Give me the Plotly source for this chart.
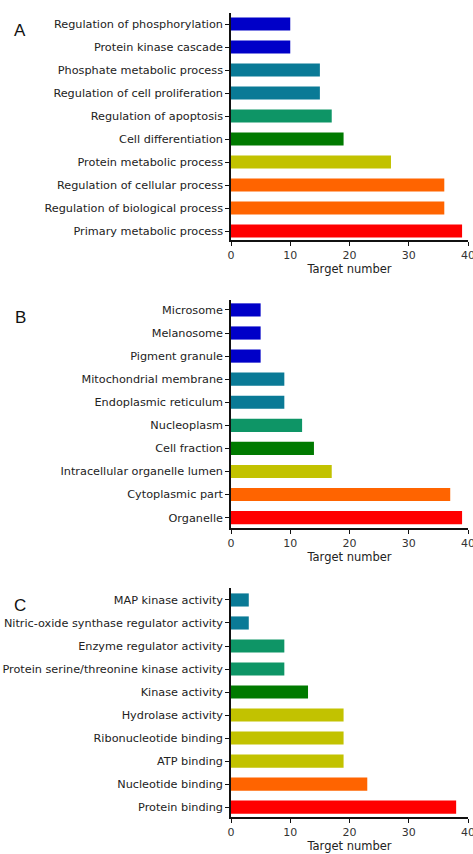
import plotly.graph_objects as go

W, H = 473, 854

# Panel A
cats_a = ["Regulation of phosphorylation", "Protein kinase cascade", "Phosphate metabolic process",
          "Regulation of cell proliferation", "Regulation of apoptosis", "Cell differentiation",
          "Protein metabolic process", "Regulation of cellular process",
          "Regulation of biological process", "Primary metabolic process"]
vals_a = [10, 10, 15, 15, 17, 19, 27, 36, 36, 39]
cols_a = ["#0000C8", "#0000C8", "#0A7A96", "#0A7A96", "#0E9566", "#007A00",
          "#C2C200", "#FF6400", "#FF6400", "#FF0000"]

# Panel B
cats_b = ["Microsome", "Melanosome", "Pigment granule", "Mitochondrial membrane",
          "Endoplasmic reticulum", "Nucleoplasm", "Cell fraction",
          "Intracellular organelle lumen", "Cytoplasmic part", "Organelle"]
vals_b = [5, 5, 5, 9, 9, 12, 14, 17, 37, 39]
cols_b = ["#0000C8", "#0000C8", "#0000C8", "#0A7A96", "#0A7A96", "#0E9566", "#007A00",
          "#C2C200", "#FF6400", "#FF0000"]

# Panel C
cats_c = ["MAP kinase activity", "Nitric-oxide synthase regulator activity",
          "Enzyme regulator activity", "Protein serine/threonine kinase activity",
          "Kinase activity", "Hydrolase activity", "Ribonucleotide binding",
          "ATP binding", "Nucleotide binding", "Protein binding"]
vals_c = [3, 3, 9, 9, 13, 19, 19, 19, 23, 38]
cols_c = ["#0A7A96", "#0A7A96", "#0E9566", "#0E9566", "#007A00", "#C2C200",
          "#C2C200", "#C2C200", "#FF6400", "#FF0000"]

x_ticks = [0, 10, 20, 30, 40]
panel_letters = ["A", "B", "C"]

# layout geometry in pixels (top, bottom of each plot area)
panels_px = [(13, 240), (300, 528), (588, 817)]
x_left_px, x_right_px = 231, 468

FONT = "DejaVu Sans, Liberation Sans, Arial, sans-serif"
fig = go.Figure()

data = [(cats_a, vals_a, cols_a), (cats_b, vals_b, cols_b), (cats_c, vals_c, cols_c)]
ranges = [[9.39, -0.48], [9.45, -0.43], [9.43, -0.52]]

layout = dict(
    width=W, height=H, margin=dict(l=0, r=0, t=0, b=0, autoexpand=False),
    paper_bgcolor="white", plot_bgcolor="white", showlegend=False,
    font=dict(family=FONT, color="#222", size=11),
)

annotations = []
for i, (cats, vals, cols) in enumerate(data):
    n = "" if i == 0 else str(i + 1)
    fig.add_trace(go.Bar(
        x=vals, y=list(range(len(cats))), orientation="h",
        marker=dict(color=cols, line=dict(width=0)),
        width=0.57, cliponaxis=False,
        xaxis="x" + n, yaxis="y" + n, hoverinfo="x+y",
    ))
    top, bot = panels_px[i]
    layout["xaxis" + n] = dict(
        domain=[x_left_px / W, x_right_px / W], anchor="y" + n, automargin=False,
        range=[0, 40], tickvals=x_ticks, ticktext=[str(t) for t in x_ticks],
        showgrid=False, zeroline=False, showline=True, linecolor="#111", linewidth=1.5,
        ticks="outside", ticklen=4, tickwidth=1.2, tickcolor="#111",
        tickfont=dict(size=11, color="#333"), ticklabeloverflow="allow",
        title=dict(text="Target number", font=dict(size=11.5, color="#222"), standoff=2),
    )
    layout["yaxis" + n] = dict(
        domain=[1 - bot / H, 1 - top / H], anchor="x" + n, automargin=False,
        range=ranges[i], tickvals=list(range(len(cats))), ticktext=cats,
        showgrid=False, zeroline=False, showline=True, linecolor="#111", linewidth=1.5,
        ticks="outside", ticklen=4, tickwidth=1.2, tickcolor="#111",
        tickfont=dict(size=11.25, color="#222"), ticklabeloverflow="allow",
    )
    annotations.append(dict(
        text=panel_letters[i], x=20 / W, y=1 - ((top + 17) / H),
        xref="paper", yref="paper", showarrow=False,
        font=dict(size=17, color="#111", family="Liberation Sans, Arial, sans-serif"),
        xanchor="center", yanchor="middle",
    ))

layout["annotations"] = annotations
fig.update_layout(**layout)
fig.write_html(
    "out.html",
    config={"displayModeBar": False},
    post_script="document.body.style.margin='0';document.body.style.overflow='hidden';",
)
